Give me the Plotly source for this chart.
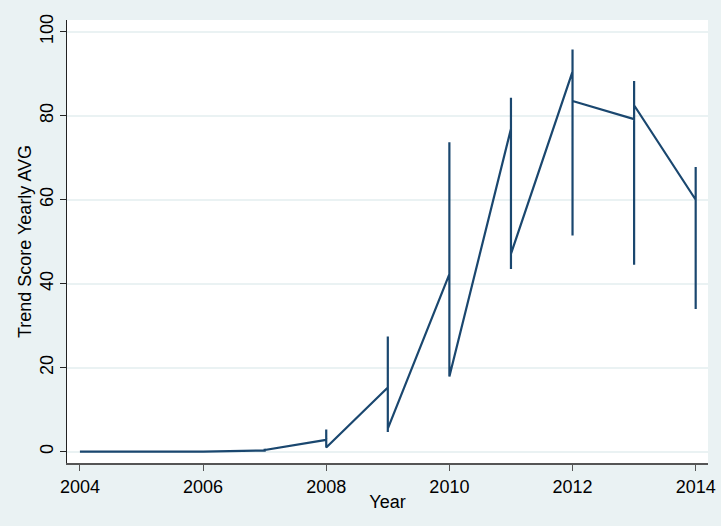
import plotly.graph_objects as go

years = [2004, 2005, 2006, 2007, 2008, 2009, 2010, 2011, 2012, 2013, 2014]
first_vals = [0.0, 0.0, 0.0, 0.3, 2.8, 15.3, 42.3, 76.9, 90.5, 79.2, 60.0]
min_vals = [0.0, 0.0, 0.0, 0.0, 1.0, 4.7, 17.9, 43.5, 51.5, 44.5, 34.0]
max_vals = [0.0, 0.0, 0.0, 0.7, 5.3, 27.4, 73.7, 84.3, 95.8, 88.3, 67.8]
last_vals = [0.0, 0.0, 0.0, 0.4, 1.0, 5.5, 17.9, 47.1, 83.5, 82.5, 60.0]

xticks = [2004, 2006, 2008, 2010, 2012, 2014]
yticks = [0, 20, 40, 60, 80, 100]

xs, ys = [], []
for yr, f, lo, hi, la in zip(years, first_vals, min_vals, max_vals, last_vals):
    for v in (f, lo, hi, la):
        xs.append(yr)
        ys.append(v)

NAVY = "#1a476f"
BG = "#eaf2f3"
FONT = "Liberation Sans, Arial, sans-serif"

fig = go.Figure(go.Scatter(x=xs, y=ys, mode="lines",
                           line=dict(color=NAVY, width=2.2),
                           hoverinfo="x+y"))

fig.update_layout(
    width=721, height=526,
    paper_bgcolor=BG, plot_bgcolor="white",
    margin=dict(l=67, r=13, t=20, b=63, autoexpand=False),
    showlegend=False,
    font=dict(family=FONT, size=18, color="black"),
)
fig.update_xaxes(
    range=[2003.79, 2014.2], tickvals=xticks, ticktext=[str(t) for t in xticks],
    showgrid=False, zeroline=False, automargin=False,
    showline=True, linecolor="#555555", linewidth=2,
    ticks="outside", ticklen=6, tickcolor="#555555", tickwidth=1,
    tickfont=dict(size=18, family=FONT),
    title=dict(text="Year", font=dict(size=18, family=FONT), standoff=0),
)
fig.update_yaxes(
    range=[-2.7, 102.8], tickvals=yticks, ticktext=[str(t) for t in yticks],
    showgrid=True, gridcolor=BG, gridwidth=2, zeroline=False, automargin=False,
    showline=True, linecolor="#222222", linewidth=1,
    ticks="outside", ticklen=6, tickcolor="#222222", tickwidth=1,
    tickangle=-90,
    tickfont=dict(size=18, family=FONT),
    title=dict(text="Trend Score Yearly AVG", font=dict(size=18, family=FONT), standoff=0),
)

fig.write_html("out.html")
